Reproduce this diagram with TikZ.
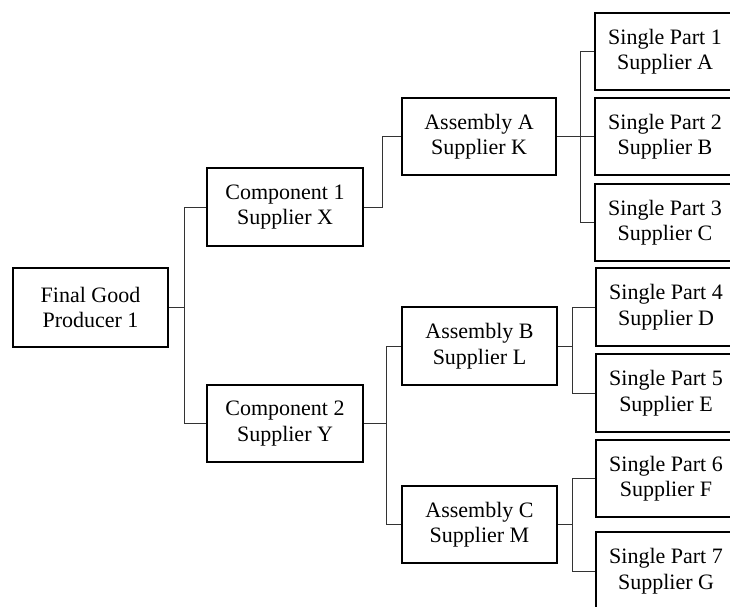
\documentclass[tikz,border=0pt]{standalone}
\usepackage{fontspec}
\setmainfont{Liberation Serif}
\begin{document}
\begin{tikzpicture}[x=1pt,y=-1pt,
  box/.style={draw=black,line width=1.6pt,fill=white,align=center,font=\fontsize{22}{25.5}\selectfont,inner sep=0pt},
  mid/.style={box,minimum width=155pt,minimum height=77pt},
  part/.style={box,minimum width=140pt,minimum height=77pt},
  link/.style={draw=black!80,line width=0.9pt}]
\useasboundingbox (0,0) rectangle (730,606);
\clip (0,0) rectangle (730,606);
\node[mid,minimum height=79pt] (fg) at (90.5,307.5) {Final Good\\Producer 1};
\node[mid,minimum width=156pt,minimum height=78pt] (c1) at (285,207) {Component 1\\Supplier X};
\node[mid,minimum width=156pt] (c2) at (285,423.5) {Component 2\\Supplier Y};
\node[mid,minimum width=154pt] (aA) at (479,136.5) {Assembly A\\Supplier K};
\node[mid,minimum height=78pt] (aB) at (479.5,346) {Assembly B\\Supplier L};
\node[mid] (aC) at (479.5,524.5) {Assembly C\\Supplier M};
\node[part] (p1) at (665,51.5) {Single Part 1\\Supplier A};
\node[part] (p2) at (665,136.5) {Single Part 2\\Supplier B};
\node[part] (p3) at (665,222.5) {Single Part 3\\Supplier C};
\node[part,minimum height=78pt] (p4) at (666,307) {Single Part 4\\Supplier D};
\node[part,minimum height=78pt] (p5) at (666,393) {Single Part 5\\Supplier E};
\node[part] (p6) at (666,478.5) {Single Part 6\\Supplier F};
\node[part,minimum height=78pt] (p7) at (666,571) {Single Part 7\\Supplier G};
\path[link] (fg.east) -- ++(16,0) |- (c1.west);
\path[link] (fg.east) -- ++(16,0) |- (c2.west);
\path[link] (c1.east) -- ++(19,0) |- (aA.west);
\path[link] (c2.east) -- ++(23,0) |- (aB.west);
\path[link] (c2.east) -- ++(23,0) |- (aC.west);
\path[link] (aA.east) -- ++(24,0) |- (p1.west);
\path[link] (aA.east) -- ++(24,0) |- (p2.west);
\path[link] (aA.east) -- ++(24,0) |- (p3.west);
\path[link] (aB.east) -- ++(15,0) |- (p4.west);
\path[link] (aB.east) -- ++(15,0) |- (p5.west);
\path[link] (aC.east) -- ++(15,0) |- (p6.west);
\path[link] (aC.east) -- ++(15,0) |- (p7.west);
\end{tikzpicture}
\end{document}
